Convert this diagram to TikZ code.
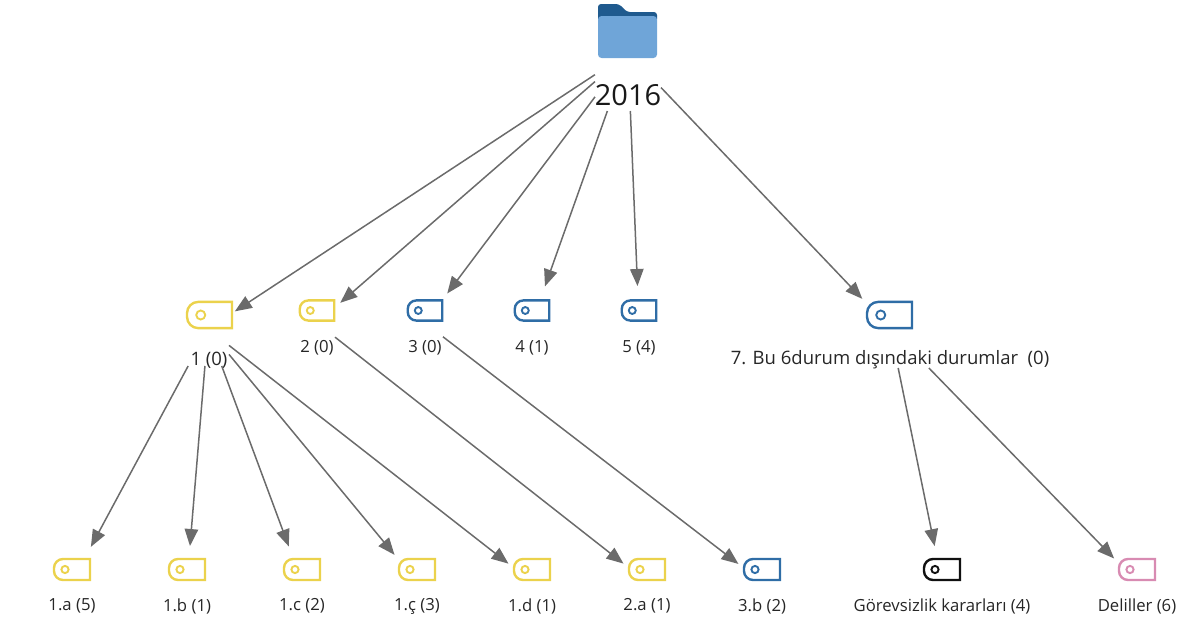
\documentclass[tikz,border=0pt]{standalone}
\usepackage{fontspec}
\setmainfont{Open Sans}
\usetikzlibrary{arrows.meta}
\definecolor{tagyellow}{HTML}{EBD24C}
\definecolor{tagblue}{HTML}{2F6DA6}
\definecolor{tagpink}{HTML}{D88BB2}
\definecolor{tagblack}{HTML}{111111}
\definecolor{folderdark}{HTML}{1F5A8E}
\definecolor{folderlight}{HTML}{6FA5D8}
\tikzset{
hub/.style={shape=rectangle, minimum width=36pt, minimum height=58pt, inner sep=0, outer sep=0}, tagtext/.style={inner sep=0, font=\fontsize{16.7}{19}\selectfont, text=black!85}, bigtext/.style={tagtext, font=\fontsize{18.5}{21}\selectfont},
link/.style={draw=black!58, line width=1.5pt, -{Triangle[length=17pt, width=13.5pt]}, shorten >=7pt},
tagicon/.pic={\draw[line width=2.4pt, pic actions] (18,-10.5) -- (-9,-10.5) arc[start angle=270, end angle=180, radius=9] -- (-18,1.5) arc[start angle=180, end angle=90, radius=9] -- (18,10.5) -- cycle;
      \draw[line width=1.9pt, pic actions] (-7,0) circle (3.6);}}

\begin{document}
\begin{tikzpicture}[x=1pt, y=-1pt]
\useasboundingbox (0,0) rectangle (1189,621);
% folder
\fill[folderdark, rounded corners=3pt] (598,22) -- (598,4) -- (619,4) -- (627,12) -- (657,12) -- (657,22) -- cycle;
\fill[folderlight, rounded corners=3.5pt] (598,16) -- (657,16) -- (657,58) -- (598,58) -- cycle;
\node [hub, minimum width=66pt, minimum height=116pt] at (628,53) (root) {};
\node [inner sep=0, font=\fontsize{29}{32}\selectfont, text=black!90] at (628,95) (root-text) {2016};

% second row
\node [hub, minimum width=42pt, minimum height=74pt] at (208,329) (tag-1) {};
\pic [draw=tagyellow, scale=1.25] at (209.5,315) {tagicon};
\node [bigtext] at (209,360) (text-1) {1 (0)};
\foreach \jlabel/\jx/\jc [count=\j from 2] in {2 (0)/317/tagyellow, 3 (0)/425/tagblue, 4 (1)/532/tagblue, 5 (4)/639/tagblue}{
      \node [hub, minimum height=60pt] at (\jx, 323) (tag-\j) {};
      \pic [draw=\jc, scale=0.96] at (\jx, 310.5) {tagicon};
      \node [tagtext] at (\jx, 348) (text-\j) {\jlabel};
      \draw [link] (root) -- (tag-\j);
}
\node [hub, minimum width=320pt, minimum height=80pt] at (890,328) (tag-7) {};
\pic [draw=tagblue, scale=1.25] at (889.5,315) {tagicon};
\node [bigtext] at (890,360) (text-7) {7. Bu 6durum dışındaki durumlar\ \ (0)};
\draw [link] (root) -- (tag-1);
\draw [link, shorten >=-15pt] (root) -- (tag-7);

% bottom row
\foreach \jlabel/\jx/\jc/\jn in {1.a (5)/72/tagyellow/1a, 1.b (1)/187/tagyellow/1b, 1.c (2)/302/tagyellow/1c, 1.ç (3)/417/tagyellow/1d, 1.d (1)/532/tagyellow/1e, 2.a (1)/647/tagyellow/2a, 3.b (2)/762/tagblue/3b, Görevsizlik kararları (4)/942/tagblack/g, Deliller (6)/1137/tagpink/d}{
      \node [hub] at (\jx, 582) (leaf-\jn) {};
      \pic [draw=\jc] at (\jx, 569.5) {tagicon};
      \node [tagtext] at (\jx, 606) (leaf-text-\jn) {\jlabel};
}
\foreach \jn in {1a, 1b, 1c, 1d, 1e}{
      \draw [link] (tag-1) -- (leaf-\jn);
}
\draw [link] (tag-2) -- (leaf-2a);
\draw [link] (tag-3) -- (leaf-3b);
\draw [link] (tag-7) -- (leaf-g);
\draw [link] (tag-7) -- (leaf-d);
\end{tikzpicture}
\end{document}
